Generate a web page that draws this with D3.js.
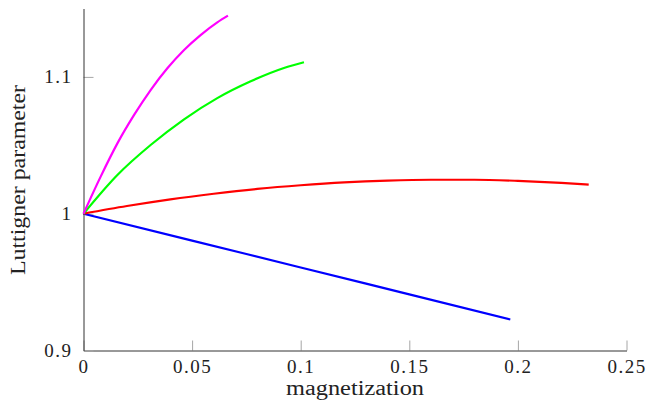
<!DOCTYPE html>
<html>
<head>
<meta charset="utf-8">
<script src="https://cdn.jsdelivr.net/npm/d3@7"></script>
<style>
	body { margin: 0; background: #fff; }
	#chart { width: 646px; height: 411px; }
	text { font-family: "Liberation Serif", "Times New Roman", Times, "DejaVu Serif", serif; fill: #222; }
</style>
</head>
<body>
<div id="chart"></div>
<script>

// Data (magnetization, Luttinger parameter)
const magentaX = [0, 0.0079, 0.0156, 0.0233, 0.0309, 0.0386, 0.0463, 0.0539, 0.0616, 0.0665];
const magentaY = [1, 1.0271, 1.0514, 1.0722, 1.0904, 1.1063, 1.1197, 1.1306, 1.1399, 1.1448];

const greenX = [0, 0.0156, 0.0309, 0.0463, 0.0616, 0.0770, 0.0923, 0.1015];
const greenY = [1, 1.0283, 1.0502, 1.0690, 1.0845, 1.0968, 1.1065, 1.1107];

const redX = [0, 0.02, 0.04, 0.06, 0.08, 0.10, 0.12, 0.14, 0.16, 0.18, 0.20, 0.22, 0.2326];
const redY = [1, 1.0056, 1.0105, 1.0146, 1.0181, 1.0208, 1.0229, 1.0242, 1.0248, 1.0248, 1.0240, 1.0225, 1.0212];

const blueX = [0, 0.05, 0.10, 0.15, 0.1965];
const blueY = [1, 0.9803, 0.9607, 0.9410, 0.9227];

const xTicks = [0, 0.05, 0.1, 0.15, 0.2, 0.25];
const yTicks = [0.9, 1, 1.1];

const seriesNames = ["blue", "red", "green", "magenta"];
const seriesColors = ["#0000ff", "#ff0000", "#00ff00", "#ff00ff"];

function luttingerChart(svg_name) {

	// General Variables
	const chart_width = 646;
	const chart_height = 411;
	const serif = "'Liberation Serif', 'Times New Roman', Times, 'DejaVu Serif', serif";
	let chart = d3.select(svg_name).append("svg")
		.attr("width", chart_width)
		.attr("height", chart_height);

	// x position scale
	let x = d3.scaleLinear()
		.domain([0, 0.25])
		.range([83.5, 626.5]);

	// y position scale
	let y = d3.scaleLinear()
		.domain([0.9, 1.15])
		.range([350.5, 8.5]);

	// X Axis
	let xAxis = chart.append("g")
		.attr("transform", "translate(0," + y(0.9) + ")")
		.call(d3.axisBottom(x)
			.tickValues(xTicks)
			.tickFormat(d => d3.format("")(d))
			.tickSizeInner(-10)
			.tickSizeOuter(0)
			.tickPadding(9));

	// Y Axis
	let yAxis = chart.append("g")
		.attr("transform", "translate(" + x(0) + ",0)")
		.call(d3.axisLeft(y)
			.tickValues(yTicks)
			.tickFormat(d => d3.format("")(d))
			.tickSizeInner(-10)
			.tickSizeOuter(0)
			.tickPadding(11));

	for (const ax of [xAxis, yAxis]) {
		ax.attr("font-family", serif);
		ax.selectAll(".tick line").attr("stroke", "#a6a6a6");
		ax.selectAll(".tick text")
			.style("font-family", serif)
			.style("font-size", "19px")
			.style("letter-spacing", "1.5px")
			.attr("fill", "#222");
		ax.select(".domain").attr("stroke", "#333").raise();
	}

	// Axis labels
	chart.append("text")
		.attr("class", "axis-label")
		.attr("x", 355)
		.attr("y", 395)
		.attr("text-anchor", "middle")
		.attr("textLength", 138)
		.attr("lengthAdjust", "spacingAndGlyphs")
		.style("font-family", serif)
		.style("font-size", "20px")
		.text("magnetization");

	chart.append("text")
		.attr("class", "axis-label")
		.attr("transform", "translate(25,180) rotate(-90)")
		.attr("text-anchor", "middle")
		.attr("textLength", 190)
		.attr("lengthAdjust", "spacingAndGlyphs")
		.style("font-family", serif)
		.style("font-size", "20px")
		.text("Luttigner parameter");

	// Curves
	let allX = [blueX, redX, greenX, magentaX];
	let allY = [blueY, redY, greenY, magentaY];
	let line = d3.line()
		.x(d => x(d[0]))
		.y(d => y(d[1]))
		.curve(d3.curveMonotoneX);

	let lines = chart.append("g")
		.selectAll("path")
		.data(seriesNames)
		.enter().append("path")
		.attr("d", (d, i) => line(d3.zip(allX[i], allY[i])))
		.attr("fill", "none")
		.attr("stroke", (d, i) => seriesColors[i])
		.attr("stroke-width", 2.2);

	return {
		chart: chart,
		x_scale: x,
		y_scale: y,
		lines: lines
	}
}

luttingerChart("#chart");
</script>
</body>
</html>
